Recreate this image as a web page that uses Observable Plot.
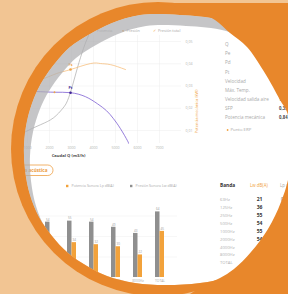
<!DOCTYPE html>
<html><head><meta charset="utf-8">
<script src="https://cdn.jsdelivr.net/npm/d3@7"></script>
<script src="https://cdn.jsdelivr.net/npm/@observablehq/plot@0.6"></script>
<style>
html,body{margin:0;padding:0;background:#fff;}
#stage{position:relative;width:288px;height:294px;overflow:hidden;background:#fff;font-family:"Open Sans",sans-serif;}
#stage > svg{position:absolute;}
</style></head><body><div id="stage"></div>
<script>
// ---------- data ----------
const flowTicks = [1000, 2000, 3000, 4000, 5000, 6000, 7000];
const pressureTicks = [100, 200, 300, 400, 500];
const powerTickLabels = ["0,01", "0,02", "0,03", "0,04", "0,05"];
const staticQ = [909, 1727, 2318, 2955, 3864, 4318, 4773, 5455];
const staticP = [311, 333, 356, 374, 401, 401, 396, 374];
const totalQ = [227, 1364, 2227, 2955, 3636, 4182, 4591, 4909, 5227, 5545, 5591];
const totalP = [275, 275, 272, 270, 252, 220, 189, 153, 108, 54, 42];
const systemQ = [0, 227, 818, 1591, 2182, 2591, 2818, 3045, 3273, 3545, 3773];
const systemP = [45, 54, 90, 126, 157, 198, 234, 302, 383, 469, 527];
const opQ = [2955, 2955];
const opP = [374, 270];
const opLabels = ["Ps", "Pt"];
const opColors = ["#f2a444", "#3f2396"];
const extraQ = [2227];
const extraP = [272];
const curveLegend = ["Potencia", "Presión", "Presión total"];
const axisTitleX = "Caudal Q (m3/h)";
const axisTitleRight = "Potencia mecánica (kW)";

const propLabels = ["Q", "Pe", "Pd", "Pt", "Velocidad", "Máx. Temp.", "Velocidad salida aire", "SFP", "Potencia mecánica"];
const propValues = ["0,82", "374", "45", "419", "14,8", "60", "10,2", "0,35", "0,84"];
const bepLabel = "Punto ERP";

const tabLabel = "Curva acústica";
const bands = ["63Hz", "125Hz", "250Hz", "500Hz", "1000Hz", "2000Hz", "4000Hz", "8000Hz", "TOTAL"];
const lwValues = [21, 36, 55, 54, 55, 54, 49, 43, 64];
const lpValues = [0, 15, 34, 33, 34, 32, 30, 22, 45];
const barLegend = ["Potencia Sonora Lp dB(A)", "Presión Sonora Lw dB(A)"];
const tableHeader = ["Banda", "Lw dB(A)", "Lp dB(A)"];

// ---------- colours ----------
const PEACH = "#f2c593", ORANGE = "#e8872b", RING = "#aeafb2";
const BAR_ORANGE = "#f2a23b", BAR_GRAY = "#8f8f8f";
const FONT = "'Open Sans', sans-serif";

const stage = document.getElementById("stage");
function place(el, left, top) { el.style.left = left + "px"; el.style.top = top + "px"; el.style.overflow = "visible"; el.style.background = "transparent"; stage.appendChild(el); }

// ---------- chart 1: fan curves ----------
const toRows = (qs, ps) => qs.map((q, i) => ({q, p: ps[i]}));
const powerLabel = new Map(pressureTicks.map((t, i) => [t, powerTickLabels[i]]));
const ops = opQ.map((q, i) => ({q, p: opP[i], label: opLabels[i], color: opColors[i]}));

const chart1 = Plot.plot({
  width: 203, height: 139, marginLeft: 5, marginRight: 22, marginTop: 15, marginBottom: 16,
  style: {fontFamily: FONT},
  x: {domain: [0, 8000]},
  y: {domain: [41.6, 527]},
  marks: [
    Plot.gridX(flowTicks, {stroke: "#ededed", strokeOpacity: 1, strokeWidth: 0.5}),
    Plot.gridY(pressureTicks, {stroke: "#ededed", strokeOpacity: 1, strokeWidth: 0.5}),
    Plot.axisX(flowTicks, {tickSize: 0, tickPadding: 2.5, fontSize: 3.6, color: "#b3b3b3", tickFormat: d => String(d), label: null}),
    Plot.axisY(pressureTicks, {anchor: "right", tickSize: 0, tickPadding: 4, fontSize: 3.6, color: "#b3b3b3", tickFormat: d => powerLabel.get(d), label: null}),
    Plot.line(toRows(systemQ, systemP), {x: "q", y: "p", stroke: "#9c9c9c", strokeWidth: 0.6, curve: "natural"}),
    Plot.line(toRows(staticQ, staticP), {x: "q", y: "p", stroke: "#f6b86e", strokeWidth: 0.7, curve: "natural"}),
    Plot.line(toRows(totalQ, totalP), {x: "q", y: "p", stroke: "#7c5ed2", strokeWidth: 0.8, curve: "natural"}),
    Plot.dot(toRows(extraQ, extraP), {x: "q", y: "p", r: 0.9, fill: "#f2a444"}),
    Plot.dot(ops, {x: "q", y: "p", r: 1.3, fill: "color"}),
    Plot.text(ops, {x: "q", y: "p", text: "label", fill: "color", dy: -4.5, fontSize: 3.6, fontWeight: "bold"}),
    Plot.text([axisTitleX], {text: d => d, frameAnchor: "bottom", dy: 13, dx: -25, fontSize: 4.2, fontWeight: "bold", fill: "#4a4a4a"}),
    Plot.text([axisTitleRight], {text: d => d, frameAnchor: "right", dx: 15, rotate: -90, fontSize: 4, fill: "#f0a648"})
  ]
});
place(chart1, 0, 20);

// ---------- chart 2: acoustic bars ----------
const barRows = bands.map((band, i) => ({band, lw: lwValues[i], lp: lpValues[i]}));
const shown = d => d.band !== bands[0]; // the first band falls outside the picture
const chart2 = Plot.plot({
  width: 226, height: 97, marginLeft: 3, marginRight: 12, marginTop: 5, marginBottom: 10,
  style: {fontFamily: FONT},
  x: {type: "band", domain: bands, padding: 0.59},
  y: {domain: [0, 80], axis: null},
  marks: [
    Plot.gridY([20, 40, 60], {stroke: "#efefef", strokeOpacity: 1, strokeWidth: 0.5}),
    Plot.barY(barRows, {x: "band", y: "lw", fill: BAR_GRAY, insetRight: 4.5}),
    Plot.barY(barRows, {x: "band", y: "lp", fill: BAR_ORANGE, insetLeft: 4.5}),
    Plot.text(barRows, {filter: shown, x: "band", y: "lw", text: d => String(d.lw), dx: -2.25, dy: -2.6, fontSize: 3, fill: "#9a9a9a"}),
    Plot.text(barRows, {filter: shown, x: "band", y: "lp", text: d => String(d.lp), dx: 2.25, dy: -2.6, fontSize: 3, fill: "#9a9a9a"}),
    Plot.axisX(bands.slice(1), {tickSize: 0, tickPadding: 2, fontSize: 3.3, color: "#aaaaaa", label: null})
  ]
});
place(chart2, -37, 190);

// ---------- texts: legends & tables ----------
const ann = d3.create("svg").attr("width", 288).attr("height", 294).style("font-family", FONT);
ann.append("line").attr("x1", 90).attr("x2", 94.5).attr("y1", 30.6).attr("y2", 30.6).attr("stroke", "#9c9c9c").attr("stroke-width", 0.6);
ann.append("text").attr("x", 97).attr("y", 31).attr("dominant-baseline", "middle").attr("font-size", 3.8).attr("fill", "#a5a5a5").text(curveLegend[0]);
ann.append("circle").attr("cx", 123).attr("cy", 30.8).attr("r", 0.9).attr("fill", "#f2a444");
ann.append("text").attr("x", 126.5).attr("y", 31).attr("dominant-baseline", "middle").attr("font-size", 3.8).attr("fill", "#a5a5a5").text(curveLegend[1]);
ann.append("text").attr("x", 152.5).attr("y", 31).attr("dominant-baseline", "middle").attr("font-size", 4).attr("fill", "#f2a444").text("✓");
ann.append("text").attr("x", 158).attr("y", 31).attr("dominant-baseline", "middle").attr("font-size", 3.8).attr("fill", "#a5a5a5").text(curveLegend[2]);
propLabels.forEach((lab, i) => {
  const y = 45 + i * 9.1;
  ann.append("text").attr("x", 225).attr("y", y).attr("dominant-baseline", "middle").attr("font-size", 4.6).attr("fill", "#a9a9a9").text(lab);
  ann.append("text").attr("x", 279).attr("y", y).attr("dominant-baseline", "middle").attr("font-size", 4.3).attr("font-weight", "bold").attr("fill", "#4a4a4a").text(propValues[i]);
});
ann.append("circle").attr("cx", 227.6).attr("cy", 130).attr("r", 0.9).attr("fill", "#f2a444");
ann.append("text").attr("x", 230.5).attr("y", 130.2).attr("dominant-baseline", "middle").attr("font-size", 4.3).attr("fill", "#aaaaaa").text(bepLabel);
ann.append("rect").attr("x", 4).attr("y", 165).attr("width", 49).attr("height", 10.5).attr("rx", 5.2).attr("fill", "#fff").attr("stroke", "#eea045").attr("stroke-width", 0.8);
ann.append("text").attr("x", 47.5).attr("y", 170.4).attr("text-anchor", "end").attr("dominant-baseline", "middle").attr("font-size", 4.6).attr("font-weight", "bold").attr("fill", "#eb9a3c").text(tabLabel);
ann.append("rect").attr("x", 66).attr("y", 184.8).attr("width", 2.4).attr("height", 2.4).attr("fill", BAR_ORANGE);
ann.append("text").attr("x", 71.5).attr("y", 186.2).attr("dominant-baseline", "middle").attr("font-size", 3.6).attr("fill", "#aaaaaa").text(barLegend[0]);
ann.append("rect").attr("x", 130).attr("y", 184.8).attr("width", 2.4).attr("height", 2.4).attr("fill", BAR_GRAY);
ann.append("text").attr("x", 135.5).attr("y", 186.2).attr("dominant-baseline", "middle").attr("font-size", 3.6).attr("fill", "#aaaaaa").text(barLegend[1]);
ann.append("text").attr("x", 220).attr("y", 185.5).attr("dominant-baseline", "middle").attr("font-size", 4.8).attr("font-weight", "bold").attr("fill", "#333").text(tableHeader[0]);
ann.append("text").attr("x", 250).attr("y", 185.5).attr("dominant-baseline", "middle").attr("font-size", 4.4).attr("fill", "#f0a040").text(tableHeader[1]);
ann.append("text").attr("x", 280).attr("y", 185.5).attr("dominant-baseline", "middle").attr("font-size", 4.4).attr("fill", "#aaaaaa").text(tableHeader[2]);
bands.forEach((b, i) => {
  const y = 200 + i * 7.9;
  ann.append("text").attr("x", 220).attr("y", y).attr("dominant-baseline", "middle").attr("font-size", 4.2).attr("fill", "#b0b0b0").text(b);
  ann.append("text").attr("x", 259.5).attr("y", y).attr("text-anchor", "middle").attr("dominant-baseline", "middle").attr("font-size", 5).attr("font-weight", "bold").attr("fill", "#333").text(String(lwValues[i]));
  ann.append("text").attr("x", 281).attr("y", y).attr("dominant-baseline", "middle").attr("font-size", 4.5).attr("fill", "#555").text(String(lpValues[i]));
});
place(ann.node(), 0, 0);

// ---------- decorative frame (on top) ----------
const windowPts = [[140,15],[180,15],[220,20],[265,40],[300,80],[315,150],[300,230],[260,265],[230,277],[200,283],[165,285],[135,283],[107,276],[87,266],[68,253],[52,236],[39,217],[30,195],[25,170],[24,145],[27,121],[34,98],[43,80],[56,62],[70,47],[90,34],[112,23]];
const blobPts = [[150,3],[195,10],[215,20],[230,33],[247,47],[263,70],[273,87],[280,100],[287,112],[291,140],[289,175],[281,202],[268,229],[251,252],[234,269],[220,278],[205,285],[190,294]];
const O = {cx: 158, cy: 149, r: 147};
const windowPath = d3.line().curve(d3.curveCatmullRomClosed)(windowPts);
const blobPath = d3.line().curve(d3.curveCatmullRom)(blobPts) + "L190,310L310,310L310,3Z";

const ov = d3.create("svg").attr("width", 288).attr("height", 294);
const defs = ov.append("defs");
const mHole = defs.append("mask").attr("id", "mHole").attr("maskUnits", "userSpaceOnUse").attr("x", -20).attr("y", -20).attr("width", 340).attr("height", 340);
mHole.append("rect").attr("x", -20).attr("y", -20).attr("width", 340).attr("height", 340).attr("fill", "#fff");
mHole.append("path").attr("d", windowPath).attr("fill", "#000");
const mShift = defs.append("mask").attr("id", "mShift").attr("maskUnits", "userSpaceOnUse").attr("x", -20).attr("y", -20).attr("width", 340).attr("height", 340);
mShift.append("rect").attr("x", -20).attr("y", -20).attr("width", 340).attr("height", 340).attr("fill", "#fff");
mShift.append("path").attr("d", windowPath).attr("transform", "translate(6,11)").attr("fill", "#000");

ov.append("rect").attr("width", 288).attr("height", 294).attr("fill", PEACH).attr("mask", "url(#mHole)");
ov.append("circle").attr("cx", O.cx).attr("cy", O.cy).attr("r", O.r).attr("fill", ORANGE).attr("mask", "url(#mHole)");
ov.append("path").attr("d", windowPath).attr("fill", RING).attr("fill-opacity", 0.72).attr("mask", "url(#mShift)");
ov.append("path").attr("d", blobPath).attr("fill", ORANGE);
place(ov.node(), 0, 0);
</script></body></html>
